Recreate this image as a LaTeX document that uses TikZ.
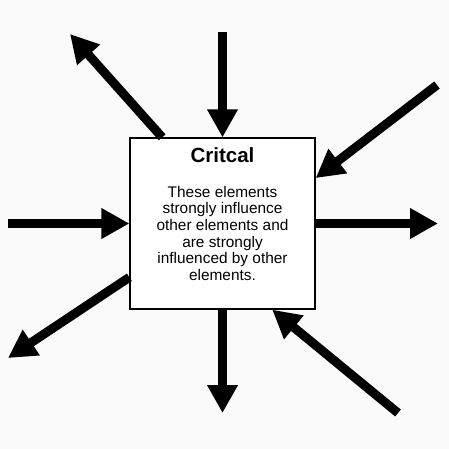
\documentclass[tikz,border=0pt]{standalone}
\usepackage{fontspec}
\setmainfont{Liberation Sans}
\usetikzlibrary{arrows.meta, positioning, calc}
\definecolor{cPaper}{RGB}{250,250,250}
\tikzset{
	critbox/.style  ={rectangle, draw=black, line width=1.3pt, fill=white, minimum width=185pt, minimum height=171pt, inner sep=0pt},
	titletext/.style={font=\fontsize{20.5}{24}\selectfont\bfseries, inner sep=0pt},
	bodytext/.style ={font=\fontsize{15.4}{16.6}\selectfont, align=center, inner sep=0pt},
	bigarrow/.style ={-{Triangle[length=28pt, width=29pt]}, line width=9pt},
}

\begin{document}
\begin{tikzpicture}[x=1pt, y=-1pt]
	\fill[cPaper] (0,0) rectangle (449,449);
	\useasboundingbox (0,0) rectangle (449,449);
	\node[critbox] (crit) at (222.5,223.5) {};
	\node[titletext, anchor=base] (title) at (222.5,162) {Critcal};
	\node[bodytext, anchor=north] (body) at (222.5,186) {These elements\\strongly influence\\other elements and\\are strongly\\influenced by other\\elements.};
	% free ends of the arrows
	\coordinate (nwEnd) at (70,34);
	\coordinate (nEnd)  at (222.5,32);
	\coordinate (neEnd) at (437,85);
	\coordinate (wEnd)  at (8,223.5);
	\coordinate (eEnd)  at (438,223.5);
	\coordinate (swEnd) at (8,358);
	\coordinate (sEnd)  at (222.5,413);
	\coordinate (seEnd) at (398,413);
	% incoming
	\draw[bigarrow] (nEnd) -- (crit.north);
	\draw[bigarrow] (neEnd) -- (crit.26);
	\draw[bigarrow] (wEnd) -- (crit.west);
	\draw[bigarrow] (seEnd) -- (crit.300);
	% outgoing
	\draw[bigarrow] (crit.125) -- (nwEnd);
	\draw[bigarrow] (crit.east) -- (eEnd);
	\draw[bigarrow] (crit.210) -- (swEnd);
	\draw[bigarrow] (crit.south) -- (sEnd);
\end{tikzpicture}
\end{document}
